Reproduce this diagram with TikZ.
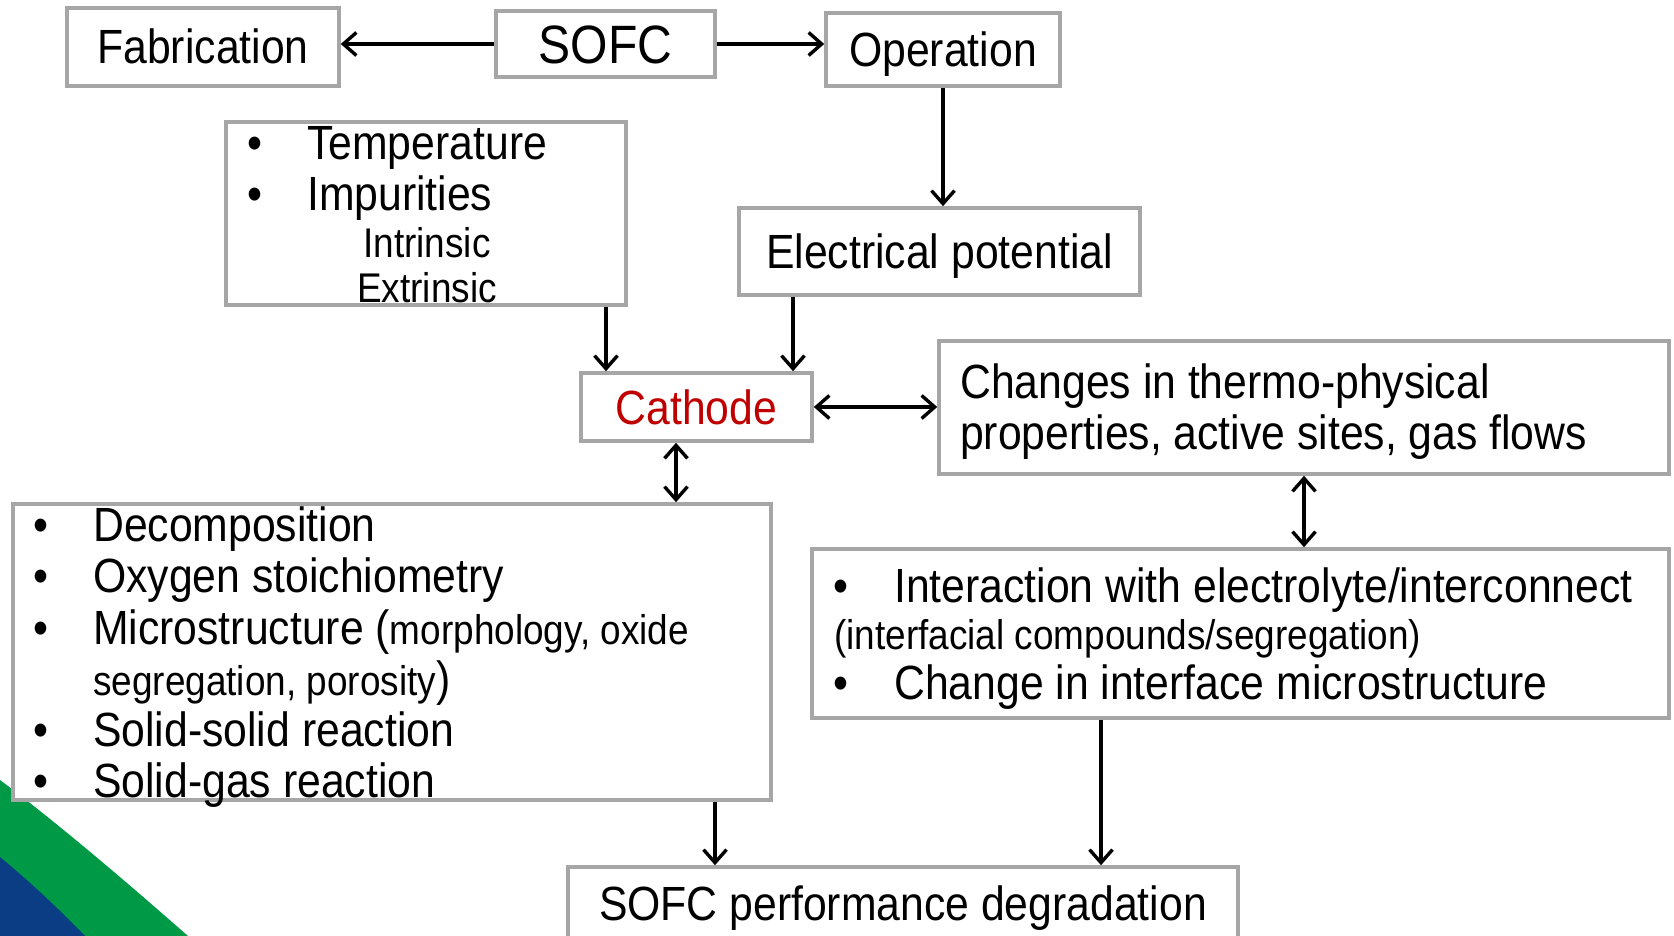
\documentclass[tikz,border=0pt]{standalone}
\usepackage{fontspec}
\setmainfont{Liberation Sans}[FakeStretch=0.89]
\usetikzlibrary{arrows.meta}
\definecolor{boxgray}{HTML}{A6A6A6}
\definecolor{cathred}{HTML}{C00000}
\definecolor{swgreen}{HTML}{009A46}
\definecolor{swblue}{HTML}{0A3D84}
\newcommand{\bigtxt}{\fontsize{48}{51}\selectfont}
\newcommand{\smalltxt}{\fontsize{41.5}{46}\selectfont}
\tikzset{
  box/.style={draw=boxgray, line width=3.6pt, fill=white, inner sep=0pt, rectangle},
  onebox/.style={box, font=\bigtxt, text height=34pt, text depth=0pt},
  lbl/.style={inner sep=0pt, anchor=base west, font=\bigtxt},
  sml/.style={inner sep=0pt, anchor=base, font=\smalltxt},
  arr/.style={->, line width=3.4pt, black},
  dbl/.style={<->, line width=3.4pt, black},
}
\begin{document}
\begin{tikzpicture}[x=1pt,y=-1pt,>={Straight Barb[length=13pt,width=23pt]}]
\useasboundingbox (0,0) rectangle (1674,936);
\clip (0,0) rectangle (1674,936);

% corner swoosh
\fill[swgreen] (0,780) .. controls (60,825) and (130,885) .. (188,936) -- (0,936) -- cycle;
\fill[swblue] (0,857) .. controls (30,882) and (58,908) .. (85,936) -- (0,936) -- cycle;

% single-line boxes
\node[onebox, minimum width=272pt, minimum height=78pt] (fab) at (203,47) {Fabrication};
\node[onebox, font=\fontsize{54}{58}\selectfont, text height=39pt, minimum width=219pt, minimum height=66pt] (sofc) at (605.5,44) {SOFC};
\node[onebox, minimum width=234pt, minimum height=73pt] (oper) at (943,49.5) {Operation};
\node[onebox, minimum width=401pt, minimum height=87pt] (elec) at (939.5,251.5) {Electrical potential};
\node[onebox, text=cathred, minimum width=231pt, minimum height=68pt] (cath) at (696.5,407) {Cathode};
\node[onebox, minimum width=670pt, minimum height=72pt] (perf) at (903,903) {SOFC performance degradation};

% multi-line boxes
\node[box, minimum width=400pt, minimum height=183pt] (temp) at (426,213.5) {};
\node[box, minimum width=730pt, minimum height=133pt] (chg) at (1304,407.5) {};
\node[box, minimum width=758pt, minimum height=296pt] (cath-fx) at (392,652) {};
\node[box, minimum width=857pt, minimum height=169pt] (intf) at (1240.5,633.5) {};

% operating conditions
\node[lbl] (t1b) at (247,160) {•};
\node[lbl] (t1) at (307,160) {Temperature};
\node[lbl] (t2b) at (247,211) {•};
\node[lbl] (t2) at (307,211) {Impurities};
\node[sml] (t3) at (427,258) {Intrinsic};
\node[sml] (t4) at (427,302) {Extrinsic};

% thermo-physical changes
\node[lbl] (c1) at (960,398) {Changes in thermo-physical};
\node[lbl] (c2) at (960,449) {properties, active sites, gas flows};

% cathode effects
\node[lbl] (e1b) at (33,541) {•};
\node[lbl] (e1) at (93,541) {Decomposition};
\node[lbl] (e2b) at (33,592) {•};
\node[lbl] (e2) at (93,592) {Oxygen stoichiometry};
\node[lbl] (e3b) at (33,644) {•};
\node[lbl] (e3) at (93,644) {Microstructure ({\smalltxt morphology, oxide}};
\node[lbl] (e4) at (93,695) {{\smalltxt segregation, porosity})};
\node[lbl] (e5b) at (33,746) {•};
\node[lbl] (e5) at (93,746) {Solid-solid reaction};
\node[lbl] (e6b) at (33,797) {•};
\node[lbl] (e6) at (93,797) {Solid-gas reaction};

% interface effects
\node[lbl] (i1b) at (833,602) {•};
\node[lbl] (i1) at (894,602) {Interaction with electrolyte/interconnect};
\node[lbl, font=\smalltxt] (i2) at (834,649) {(interfacial compounds/segregation)};
\node[lbl] (i3b) at (833,699) {•};
\node[lbl] (i3) at (894,699) {Change in interface microstructure};

% connector columns
\coordinate (xa) at (606,0);
\coordinate (xb) at (793,0);
\coordinate (xc) at (676,0);
\coordinate (xd) at (715,0);
\coordinate (xe) at (1101,0);

% connectors
\draw[arr] (sofc.west) -- (sofc.west -| fab.east);
\draw[arr] (sofc.east) -- (sofc.east -| oper.west);
\draw[arr] (oper.south) -- (oper.south |- elec.north);
\draw[arr] (temp.south -| xa) -- (cath.north -| xa);
\draw[arr] (elec.south -| xb) -- (cath.north -| xb);
\draw[dbl] (cath.east) -- (cath.east -| chg.west);
\draw[dbl] (cath.south -| xc) -- (cath-fx.north -| xc);
\draw[dbl] (chg.south) -- (chg.south |- intf.north);
\draw[arr] (cath-fx.south -| xd) -- (perf.north -| xd);
\draw[arr] (intf.south -| xe) -- (perf.north -| xe);
\end{tikzpicture}
\end{document}
